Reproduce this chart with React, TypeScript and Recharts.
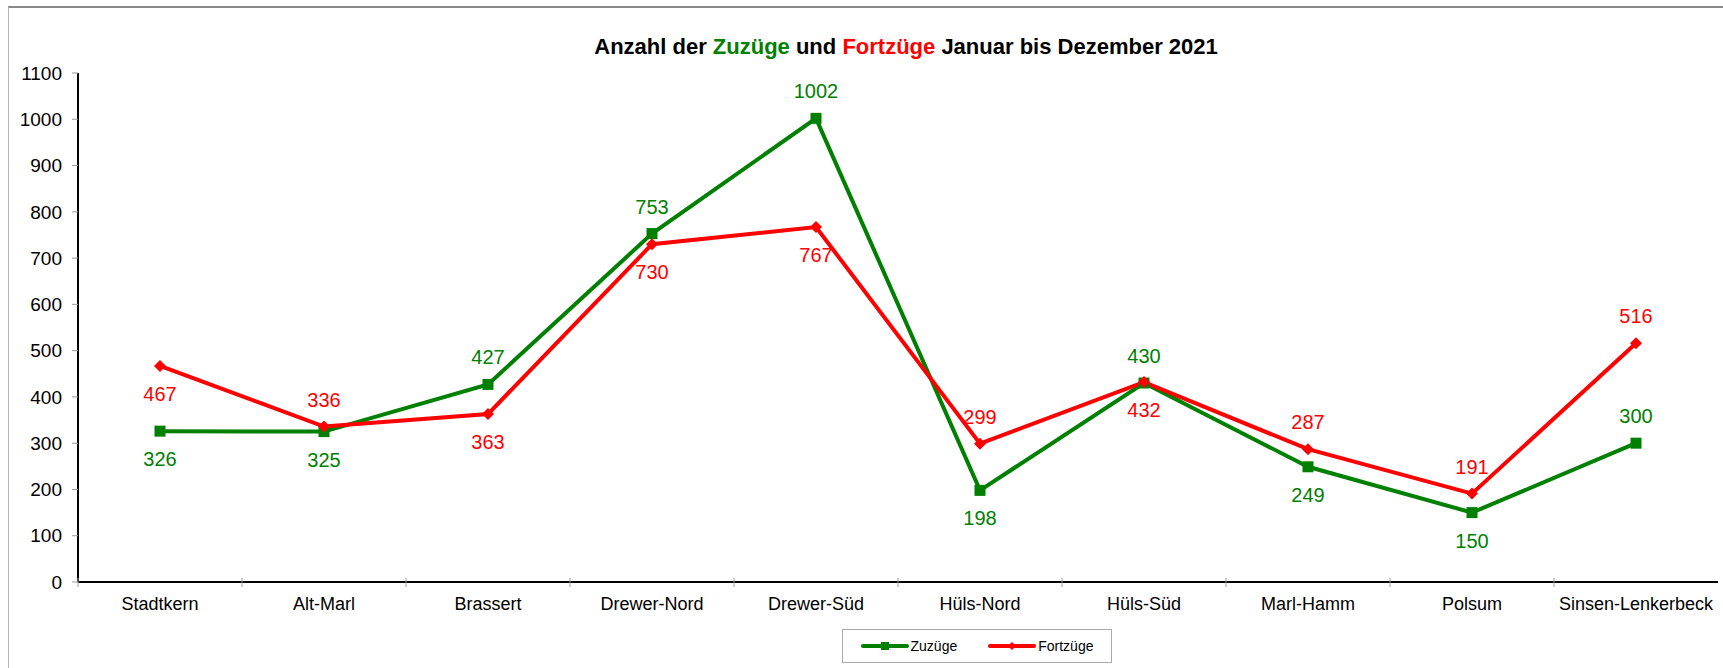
import { LineChart, Line, XAxis, YAxis, Legend, LabelList } from 'recharts'

const districts = [
  'Stadtkern',
  'Alt-Marl',
  'Brassert',
  'Drewer-Nord',
  'Drewer-Süd',
  'Hüls-Nord',
  'Hüls-Süd',
  'Marl-Hamm',
  'Polsum',
  'Sinsen-Lenkerbeck',
]
const zuzuege = [326, 325, 427, 753, 1002, 198, 430, 249, 150, 300]
const fortzuege = [467, 336, 363, 730, 767, 299, 432, 287, 191, 516]
const yTicks = [0, 100, 200, 300, 400, 500, 600, 700, 800, 900, 1000, 1100]

// wo die Zahl steht: über (1) oder unter (-1) dem Punkt
const zuSide = [-1, -1, 1, 1, 1, -1, 1, -1, -1, 1]
const fortSide = [-1, 1, -1, -1, -1, 1, -1, 1, 1, 1]

const GREEN = '#008000'
const RED = '#ff0000'
const FONT = '"Liberation Sans", Arial, Helvetica, sans-serif'

const data = districts.map((name, i) => ({ name, zu: zuzuege[i], fort: fortzuege[i] }))

function makeLabel(color: string, side: number[]) {
  return (p: any) => {
    const up = side[p.index] > 0
    return (
      <text
        x={p.x}
        y={up ? p.y - 27 : p.y + 28}
        fill={color}
        fontSize={20}
        fontFamily={FONT}
        textAnchor="middle"
        dominantBaseline="central"
      >
        {p.value}
      </text>
    )
  }
}

function SquareDot(p: any) {
  return <rect key={p.index} x={p.cx - 5.5} y={p.cy - 5.5} width={11} height={11} fill={GREEN} />
}

function DiamondDot(p: any) {
  const { cx, cy } = p
  return (
    <polygon
      key={p.index}
      points={`${cx},${cy - 6} ${cx + 6},${cy} ${cx},${cy + 6} ${cx - 6},${cy}`}
      fill={RED}
    />
  )
}

function XTick(p: any) {
  const { x, y, payload } = p
  return (
    <g>
      <line x1={x - 82} x2={x - 82} y1={y - 4} y2={y + 5} stroke="#999" strokeWidth={1} />
      <text x={x} y={y + 28} textAnchor="middle" fill="#000" fontSize={18} fontFamily={FONT}>
        {payload.value}
      </text>
    </g>
  )
}

function LegendBox() {
  const item = (color: string, label: string, diamond: boolean) => (
    <div style={{ display: 'flex', alignItems: 'center', marginRight: diamond ? 0 : 31 }}>
      <svg width={48} height={12}>
        <line x1={2} x2={46} y1={6} y2={6} stroke={color} strokeWidth={4} strokeLinecap="round" />
        {diamond ? (
          <polygon points="24,2 28,6 24,10 20,6" fill={color} />
        ) : (
          <rect x={20} y={2} width={8} height={8} fill={color} />
        )}
      </svg>
      <span style={{ fontSize: 14, color: '#000', marginLeft: 2 }}>{label}</span>
    </div>
  )
  return (
    <div
      style={{
        width: 270,
        height: 34,
        border: '1px solid #aaa',
        display: 'flex',
        alignItems: 'center',
        justifyContent: 'center',
        boxSizing: 'border-box',
        fontFamily: FONT,
      }}
    >
      {item(GREEN, 'Zuzüge', false)}
      {item(RED, 'Fortzüge', true)}
    </div>
  )
}

export default function App() {
  return (
    <div
      style={{
        position: 'absolute',
        left: 0,
        top: 0,
        width: 1723,
        height: 668,
        background: '#fff',
        fontFamily: FONT,
      }}
    >
      <div
        style={{
          position: 'absolute',
          left: 8,
          top: 6,
          right: -10,
          bottom: -10,
          borderTop: '2px solid #8a8a8a',
          borderLeft: '1px solid #b5b5b5',
        }}
      />
      <div
        style={{
          position: 'absolute',
          left: 906,
          top: 33,
          transform: 'translateX(-50%)',
          whiteSpace: 'nowrap',
          fontSize: 22,
          fontWeight: 'bold',
          lineHeight: '28px',
          color: '#000',
        }}
      >
        Anzahl der <span style={{ color: GREEN }}>Zuzüge</span> und{' '}
        <span style={{ color: RED }}>Fortzüge</span> Januar bis Dezember 2021
      </div>
      <div style={{ position: 'absolute', left: 0, top: 0 }}>
        <LineChart
          width={1723}
          height={668}
          data={data}
          margin={{ top: 73, right: 5, bottom: 46, left: 8 }}
        >
          <XAxis
            xAxisId="top"
            orientation="top"
            dataKey="name"
            height={0}
            tick={false}
            tickLine={false}
            padding={{ left: 82, right: 82 }}
            axisLine={{ stroke: '#888', strokeWidth: 2 }}
          />
          <YAxis
            yAxisId="right"
            orientation="right"
            width={0}
            domain={[0, 1100]}
            tick={false}
            tickLine={false}
            axisLine={{ stroke: '#888', strokeWidth: 2 }}
          />
          <XAxis
            dataKey="name"
            height={40}
            padding={{ left: 82, right: 82 }}
            interval={0}
            tickSize={0}
            tickMargin={0}
            tickLine={false}
            tick={<XTick />}
            axisLine={{ stroke: '#000', strokeWidth: 2 }}
          />
          <YAxis
            width={70}
            domain={[0, 1100]}
            ticks={yTicks}
            interval={0}
            tickSize={6}
            tickMargin={10}
            tickLine={{ stroke: '#999' }}
            axisLine={{ stroke: '#000', strokeWidth: 2 }}
            tick={{ fill: '#000', fontSize: 19, fontFamily: FONT }}
          />
          <Legend
            layout="horizontal"
            verticalAlign="middle"
            align="center"
            content={<LegendBox />}
            wrapperStyle={{ left: 842, top: 629, width: 272, height: 36 }}
          />
          <Line
            dataKey="zu"
            name="Zuzüge"
            stroke={GREEN}
            strokeWidth={4}
            dot={SquareDot}
            activeDot={false}
            isAnimationActive={false}
          >
            <LabelList dataKey="zu" content={makeLabel(GREEN, zuSide)} />
          </Line>
          <Line
            dataKey="fort"
            name="Fortzüge"
            stroke={RED}
            strokeWidth={4}
            dot={DiamondDot}
            activeDot={false}
            isAnimationActive={false}
          >
            <LabelList dataKey="fort" content={makeLabel(RED, fortSide)} />
          </Line>
        </LineChart>
      </div>
    </div>
  )
}
